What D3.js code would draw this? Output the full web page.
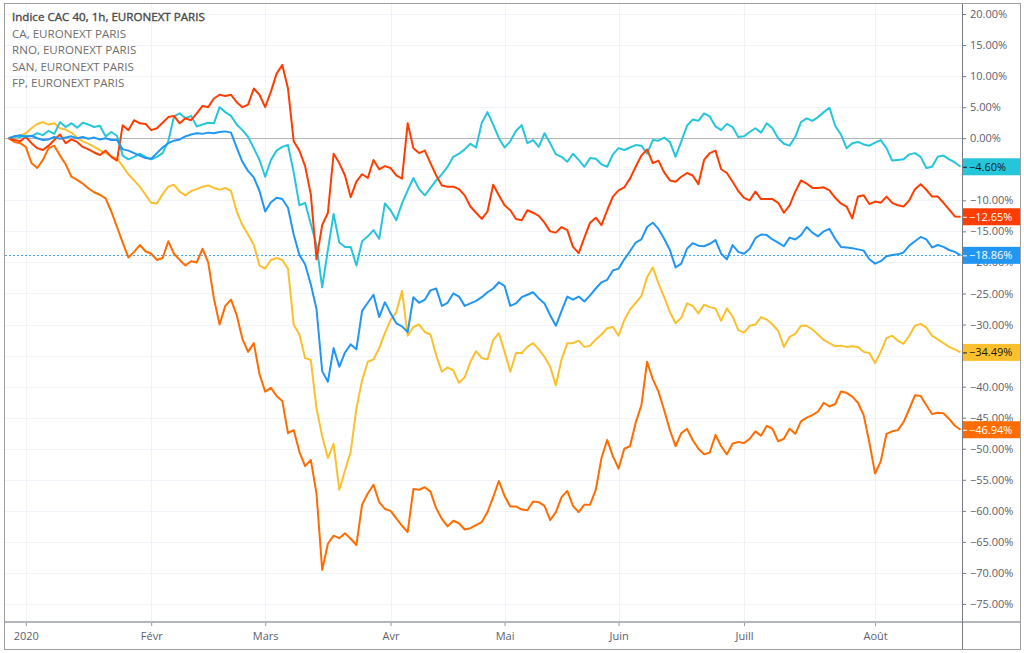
<!DOCTYPE html>
<html>
<head>
<meta charset="utf-8">
<script src="https://cdn.jsdelivr.net/npm/d3@7"></script>
<style>
body { margin: 0; background: #fff; }
</style>
</head>
<body>
<div id="chart"></div>
<script>
// % change vs. first bar, one value per trading day from 27 Dec 2019
var cac40 = [0.0,0.3,0.5,
  0.2,0.4,0.0,-0.3,-0.2,0.2,-0.1,0.1,0.3,0.0,
  0.2,-0.1,0.1,-0.2,0.0,-0.3,-0.3,-1.8,-2.0,-2.4,
  -2.8,-3.2,-3.3,-2.4,-1.5,-0.8,-0.4,-0.2,0.3,0.6,
  0.8,0.7,0.9,0.8,1.0,1.1,0.9,-1.5,-3.8,-5.3,
  -6.3,-8.5,-11.8,-10.3,-9.6,-9.8,-11.2,-15.5,-18.8,-20.3,
  -23.5,-27.5,-37.5,-39.2,-33.8,-36.8,-34.5,-33.2,-34.0,-27.8,
  -26.5,-25.2,-28.8,-26.4,-28.2,-29.8,-30.3,-31.2,-25.6,-26.5,
  -26.0,-24.5,-24.2,-27,-26.5,-25,-25.5,-27,-26.6,-26.2,
  -25.6,-24.8,-24.2,-23.2,-23.8,-27,-26.6,-25.6,-25.2,-24.8,
  -25.8,-26.6,-28.5,-30.2,-27.8,-25.5,-26,-25.5,-26.3,-25.3,
  -24.2,-23.2,-22.8,-21.3,-21.0,-19.5,-18.2,-16.8,-16.3,-14.3,
  -13.6,-14.6,-16.2,-18,-20.8,-20.2,-17.8,-16.9,-17.3,-17.4,
  -17,-16.4,-18.6,-19.5,-17.2,-18.3,-18.6,-17.8,-16.1,-15.5,
  -15.6,-16.3,-16.8,-17.4,-16,-16.3,-15.6,-14.3,-15.2,-15.8,
  -15,-14.6,-16.2,-17.5,-17.6,-17.7,-17.9,-18.1,-19.5,-20.2,
  -19.8,-19.0,-18.8,-18.7,-18.4,-17.3,-16.6,-15.9,-16.3,-17.6,
  -17.2,-17.5,-18,-18.3,-18.86];

var ca = [0.0,-0.3,-0.5,
  0.2,-0.8,-1.6,-1.9,-1.2,-0.3,0.6,-0.8,-0.2,-0.6,
  -1.4,-1.8,-2.3,-2.7,-2.0,-3.0,-3.6,2.1,1.3,2.9,
  2.4,2.3,1.3,1.6,2.5,3.4,3.6,2.4,3.2,2.9,
  4.0,5.2,5.0,6.4,7.0,6.8,7.0,5.8,5.0,5.4,
  8.0,7.0,5.0,7.5,10.4,11.8,8.0,-0.5,-2.0,-4.5,
  -9.0,-19.5,-14.0,-12,-2.5,-4.0,-6.0,-9.5,-7.0,-5.8,
  -6.4,-3.5,-5.0,-4.5,-4.8,-6.0,-6.5,2.4,-1.6,-2.4,
  -2.0,-4.0,-6.0,-7.6,-7.8,-7.8,-8.2,-9.2,-11.0,-12.0,
  -13.0,-11.8,-7.5,-9.2,-10.8,-11.6,-13.0,-13.2,-11.6,-12.0,
  -12.5,-13.6,-15.0,-15.2,-14.3,-14.8,-17.5,-18.5,-16.0,-13.6,
  -12.8,-14.0,-11.6,-9.4,-8.4,-7.9,-6.5,-4.6,-2.8,-1.8,
  -4.0,-3.6,-5.5,-6.8,-7.0,-6.2,-5.6,-6.0,-7.4,-3.5,
  -2.4,-2.0,-5.0,-5.6,-7.0,-8.5,-9.6,-10.0,-8.6,-9.8,
  -9.8,-9.8,-10.4,-12.0,-10.8,-8.6,-6.8,-7.3,-8.0,-8.0,
  -7.9,-8.4,-9.6,-10.5,-11.0,-12.9,-9.4,-9.2,-10.6,-10.2,
  -10.4,-9.4,-10.4,-10.8,-11.0,-10.0,-8.2,-7.4,-8.3,-9.4,
  -9.4,-10.4,-11.5,-12.6,-12.65];

var rno = [0.0,-0.6,-0.8,
  -1.4,-4.0,-4.8,-3.5,-1.6,-1.2,-2.8,-4.2,-6.2,-6.7,
  -7.3,-8.1,-8.7,-9.1,-9.7,-11.8,-14.3,-16.8,-19.2,-18.3,
  -17.2,-18.2,-18.6,-19.6,-19.3,-16.6,-18.6,-19.6,-20.5,-19.8,
  -20.0,-17.8,-20.0,-25.8,-30.0,-27.0,-26.0,-28.5,-32.3,-34.4,
  -33.0,-38.0,-40.8,-40.2,-41.5,-42.3,-47.5,-47.0,-50.5,-52.8,
  -51.8,-57.2,-69.5,-65.3,-64.0,-64.4,-63.6,-64.5,-65.5,-59.0,
  -57.2,-55.8,-58.6,-59.7,-60.0,-61.2,-62.4,-63.4,-56.5,-56.6,
  -56.2,-56.9,-59.6,-61.3,-62.5,-61.6,-62.0,-63.0,-62.8,-62.3,
  -61.8,-60.2,-57.8,-55.2,-57.6,-59.3,-59.3,-59.8,-59.9,-58.5,
  -58.6,-59.2,-61.5,-60.2,-57.8,-56.8,-59.2,-60.2,-59.0,-59.0,
  -56.6,-51.5,-48.6,-51.2,-53.2,-50.0,-49.6,-45.8,-43.0,-36.0,
  -38.8,-40.8,-43.8,-47.0,-49.6,-47.5,-46.8,-48.6,-50.0,-50.9,
  -50.6,-47.8,-49.6,-50.9,-49.2,-48.9,-49.1,-48.4,-47.2,-47.9,
  -46.3,-46.8,-48.8,-48.4,-46.8,-47.6,-45.6,-45.0,-44.6,-44.0,
  -42.6,-43.2,-42.8,-40.8,-41.0,-41.6,-42.6,-44.6,-49.0,-54.0,
  -52.0,-47.6,-47.2,-47.0,-45.7,-43.6,-41.4,-41.5,-43.0,-44.4,
  -44.2,-44.3,-45.2,-46.3,-46.94];

var san = [0.0,0.3,0.2,
  0.4,0.3,0.8,0.5,1.2,0.7,2.6,1.8,2.4,1.7,
  2.5,2.2,1.8,2.0,0.3,1.0,0.4,-2.8,-3.4,-3.0,
  -2.5,-3.0,-3.4,-3.0,-2.4,-0.5,3.5,4.0,3.2,3.6,
  1.9,2.2,2.5,2.4,5.0,4.2,3.6,2.2,1.3,0.2,
  -1.6,-3.5,-6.2,-3.5,-2.0,-1.4,-1.1,-5.5,-10.8,-10.4,
  -13.8,-17.2,-24.0,-18,-12.2,-16.8,-17.5,-17.5,-20.5,-16.6,
  -15.8,-14.8,-16.2,-10.5,-11.6,-13.2,-10.5,-8.4,-6.4,-8.2,
  -9.2,-8.0,-6.8,-5.8,-4.6,-3.0,-2.5,-1.8,-0.9,-1.5,
  2.5,4.2,2.2,0.0,-1.5,-0.5,1.2,2.1,-0.8,-0.3,
  -1.4,0.8,-0.8,-2.6,-3.0,-3.8,-2.5,-3.5,-4.6,-3.2,
  -3.3,-4.2,-4.6,-2.6,-1.6,-1.9,-1.5,-1.1,-1.2,-2.5,
  -0.3,-0.4,0.1,-0.6,-3.0,-0.5,2.0,3.0,2.8,4.0,
  3.5,1.9,1.3,2.3,1.8,0.2,0.3,1.0,1.6,0.9,
  2.4,1.6,0.0,-0.9,-1.2,0.2,2.6,3.2,2.8,3.4,
  4.2,4.9,2.0,0.6,-1.6,-0.8,-0.6,-1.0,-1.2,-0.7,
  -0.3,-1.6,-3.6,-3.5,-3.4,-2.6,-2.4,-3.0,-4.8,-4.6,
  -3.0,-2.8,-3.4,-3.9,-4.6];

var fp = [0.0,0.2,0.4,
  0.8,1.6,2.3,2.6,2.2,2.4,1.6,1.4,0.9,0.1,
  -0.5,-0.9,-1.4,-1.9,-2.4,-2.9,-3.3,-4.5,-5.8,-6.8,
  -7.8,-9.1,-10.4,-10.5,-9.0,-7.8,-7.5,-8.6,-9.2,-8.5,
  -8.2,-7.8,-7.6,-8.0,-8.3,-8.0,-8.5,-11.8,-14.0,-15.5,
  -17.2,-20.5,-21.0,-19.6,-19.3,-19.6,-21.0,-30.0,-31.6,-35.4,
  -35.7,-43.5,-48.0,-51.5,-49.2,-56.6,-53.5,-50.5,-43.5,-39.0,
  -36.0,-35.6,-33.8,-31.4,-29.3,-28.0,-24.6,-31.8,-30.4,-30.0,
  -31.2,-31.6,-35.0,-37.6,-36.9,-37.4,-39.4,-38.5,-36.0,-34.3,
  -35.4,-35.6,-32.5,-31.4,-34.4,-37.6,-34.6,-34.6,-33.6,-33.0,
  -34.0,-35.2,-36.8,-39.8,-35.6,-33.0,-33.0,-32.6,-33.6,-33.4,
  -32.4,-31.6,-30.6,-30.4,-31.8,-29.3,-27.6,-26.5,-25.4,-22.4,
  -20.8,-23.4,-25.6,-28.0,-29.8,-28.9,-26.6,-27.0,-28.2,-26.8,
  -27.2,-27.4,-29.4,-27.4,-28.7,-30.9,-31.3,-30.2,-30.0,-28.8,
  -29.2,-30.0,-31.0,-33.6,-32.0,-31.5,-30.2,-30.2,-30.8,-31.6,
  -32.5,-33.0,-33.5,-33.4,-33.6,-33.5,-33.6,-34.4,-34.6,-36.2,
  -34.4,-32.2,-31.8,-32.6,-33.1,-31.8,-30.2,-29.9,-30.5,-31.8,
  -32.4,-33.0,-33.6,-34.0,-34.49];

var legendLabels = ["Indice CAC 40, 1h, EURONEXT PARIS", "CA, EURONEXT PARIS",
  "RNO, EURONEXT PARIS", "SAN, EURONEXT PARIS", "FP, EURONEXT PARIS"];
var monthLabels = ["2020", "Févr", "Mars", "Avr", "Mai", "Juin", "Juill", "Août"];
var yTicks = [20, 15, 10, 5, 0, -5, -10, -15, -20, -25, -30, -35, -40, -45, -50, -55, -60, -65, -70, -75];
var holidays = ["2020-01-01", "2020-04-10", "2020-04-13", "2020-05-01"];

// series drawn back to front, main index last
var series = [
  { values: rno, color: "#ff6d00", text: "#fff" },
  { values: fp, color: "#fbc02d", text: "#131722" },
  { values: san, color: "#26c6da", text: "#131722" },
  { values: ca, color: "#ff3d00", text: "#fff" },
  { values: cac40, color: "#2196f3", text: "#fff" }
];

var W = 1024, H = 653;
var plotLeft = 5, plotRight = 962, plotTop = 3, plotBottom = 622;

// trading calendar (weekdays minus Euronext holidays)
var fmt = d3.timeFormat("%Y-%m-%d");
var days = d3.timeDay.range(new Date(2019, 11, 27), new Date(2020, 8, 30))
  .filter(function(d) { return d.getDay() !== 0 && d.getDay() !== 6 && holidays.indexOf(fmt(d)) < 0; })
  .slice(0, cac40.length);

var monthStarts = [];
days.forEach(function(d, i) {
  if (i > 0 && d.getMonth() !== days[i - 1].getMonth()) monthStarts.push(i);
});

var svg = d3.select("#chart").append("svg")
  .attr("width", W).attr("height", H)
  .style("font-family", "'Open Sans', sans-serif");

var x = d3.scaleLinear().domain([-0.65, days.length - 0.75]).range([plotLeft, plotRight]);
var y = d3.scaleLinear().domain([-75, 20]).range([604, 14]);

// grid
svg.append("g").selectAll("line").data(yTicks).enter().append("line")
  .attr("x1", plotLeft).attr("x2", plotRight)
  .attr("y1", function(d) { return Math.round(y(d)) + 0.5; })
  .attr("y2", function(d) { return Math.round(y(d)) + 0.5; })
  .attr("stroke", "#f0f3fa");
svg.append("g").selectAll("line").data(monthStarts).enter().append("line")
  .attr("x1", function(d) { return Math.round(x(d)) + 0.5; })
  .attr("x2", function(d) { return Math.round(x(d)) + 0.5; })
  .attr("y1", plotTop).attr("y2", plotBottom)
  .attr("stroke", "#f0f3fa");

// zero line
svg.append("line")
  .attr("x1", plotLeft).attr("x2", plotRight)
  .attr("y1", Math.round(y(0)) + 0.5).attr("y2", Math.round(y(0)) + 0.5)
  .attr("stroke", "#b2b5be");

svg.append("clipPath").attr("id", "plot").append("rect")
  .attr("x", plotLeft).attr("y", plotTop)
  .attr("width", plotRight - plotLeft).attr("height", plotBottom - plotTop);

var plot = svg.append("g").attr("clip-path", "url(#plot)");

// dotted line at last value of the main series
var mainLast = cac40[cac40.length - 1];
plot.append("line")
  .attr("x1", plotLeft).attr("x2", plotRight)
  .attr("y1", Math.round(y(mainLast)) + 0.5).attr("y2", Math.round(y(mainLast)) + 0.5)
  .attr("stroke", "#4aa8f5").attr("stroke-dasharray", "2,2");

var line = d3.line()
  .x(function(d, i) { return x(i); })
  .y(function(d) { return y(d); });

series.forEach(function(s) {
  plot.append("path")
    .datum(s.values)
    .attr("d", line)
    .attr("fill", "none")
    .attr("stroke", s.color)
    .attr("stroke-width", 2)
    .attr("stroke-linejoin", "round");
});

// price axis: labels fully covered by a last-value tag are skipped
var lastVals = series.map(function(s) { return s.values[s.values.length - 1]; });
var shownTicks = yTicks.filter(function(t) {
  return !lastVals.some(function(v) { return Math.abs(y(t) - y(v)) < 4; });
});
var pct = function(d) { return (d < 0 ? "\u2212" : "") + Math.abs(d).toFixed(2) + "%"; };
var yAxis = d3.axisRight(y).tickValues(shownTicks).tickSize(4).tickPadding(4).tickFormat(pct);
var yg = svg.append("g").attr("transform", "translate(" + plotRight + ",0)").call(yAxis);
yg.select(".domain").remove();
yg.selectAll(".tick line").attr("stroke", "#787b86");
yg.selectAll(".tick text").attr("fill", "#5d606b").style("font-size", "11px")
  .style("font-family", "'Open Sans', sans-serif");

// time axis
var xAxis = d3.axisBottom(x).tickValues(monthStarts).tickSize(4).tickPadding(6)
  .tickFormat(function(d, i) { return monthLabels[i]; });
var xg = svg.append("g").attr("transform", "translate(0," + plotBottom + ")").call(xAxis);
xg.select(".domain").remove();
xg.selectAll(".tick line").attr("stroke", "#9598a1");
xg.selectAll(".tick text").attr("fill", "#5d606b").style("font-size", "11px")
  .style("font-family", "'Open Sans', sans-serif");

svg.append("line").attr("x1", 4).attr("x2", 1020).attr("y1", plotBottom).attr("y2", plotBottom)
  .attr("stroke", "#b2b5be").attr("stroke-width", 2);
svg.append("line").attr("x1", plotRight + 0.5).attr("x2", plotRight + 0.5).attr("y1", plotTop).attr("y2", 649)
  .attr("stroke", "#787b86");

// last value tags
series.forEach(function(s) {
  var v = s.values[s.values.length - 1];
  var g = svg.append("g").attr("transform", "translate(" + (plotRight + 1) + "," + y(v) + ")");
  g.append("rect").attr("x", 0).attr("y", -8.5).attr("width", 57).attr("height", 17).attr("fill", s.color);
  g.append("line").attr("x1", 0).attr("x2", 4).attr("y1", 0.5).attr("y2", 0.5).attr("stroke", s.text);
  g.append("text").attr("x", 6).attr("dy", "0.35em").attr("fill", s.text)
    .style("font-size", "11px").text(pct(v));
});

// legend
svg.append("g").selectAll("text").data(legendLabels).enter().append("text")
  .attr("x", 12)
  .attr("y", function(d, i) { return 17 + i * 16.6; })
  .attr("dy", "0.35em")
  .attr("fill", function(d, i) { return i === 0 ? "#4a4a4a" : "#6f6f6f"; })
  .attr("stroke", function(d, i) { return i === 0 ? "#4a4a4a" : "none"; })
  .attr("stroke-width", 0.35)
  .style("font-size", "11.6px")
  .text(function(d) { return d; });

// frame
svg.append("rect").attr("x", 4.5).attr("y", 3.5).attr("width", 1016).attr("height", 646)
  .attr("fill", "none").attr("stroke", "#9e9e9e");
</script>
</body>
</html>
